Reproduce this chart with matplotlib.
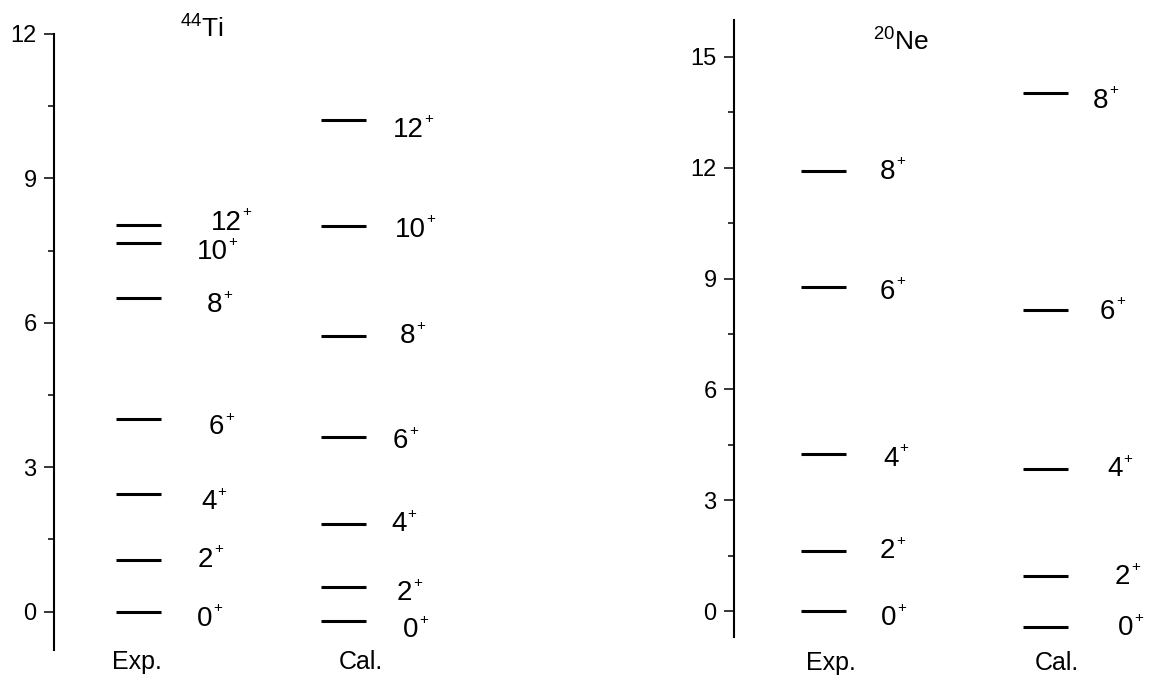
import numpy as np
import matplotlib
matplotlib.use('Agg')
import matplotlib.pyplot as plt
from matplotlib.ticker import MultipleLocator
from matplotlib.transforms import offset_copy

plt.rcParams['font.family'] = ['Liberation Sans', 'DejaVu Sans']
plt.rcParams['mathtext.fontset'] = 'custom'
plt.rcParams['mathtext.rm'] = 'Liberation Sans'
plt.rcParams['mathtext.it'] = 'Liberation Sans:italic'
plt.rcParams['mathtext.bf'] = 'Liberation Sans:bold'

# 44Ti
ti_spins = ['0', '2', '4', '6', '8', '10', '12']
ti_exp = [0.0, 1.08, 2.45, 3.99, 6.51, 7.65, 8.03]
ti_cal = [-0.19, 0.50, 1.81, 3.62, 5.72, 8.01, 10.21]

# 20Ne
ne_spins = ['0', '2', '4', '6', '8']
ne_exp = [0.0, 1.62, 4.24, 8.76, 11.92]
ne_cal = [-0.43, 0.95, 3.84, 8.16, 14.03]

fig = plt.figure(figsize=(11.53, 6.84), dpi=100)

def level_label(ax, x, y, spin):
    ax.text(x, y, spin, fontsize=20, ha='left', va='center')
    # kleines "+" oben rechts
    tr = offset_copy(ax.transData, fig=fig, x=len(spin) * 11.1 + 0.5, y=7.5, units='points')
    ax.text(x, y, '+', fontsize=11, ha='left', va='center', transform=tr)

def panel(rect, ylim, step, spins, exp, cal, title, tpos, xs, lab_exp, lab_cal, cols):
    ax = fig.add_axes(rect)
    ax.set_xlim(0, 4)
    ax.set_ylim(*ylim)
    for s in ['top', 'right', 'bottom']:
        ax.spines[s].set_visible(False)
    ax.spines['left'].set_linewidth(1.5)
    ax.set_xticks([])
    ax.yaxis.set_major_locator(MultipleLocator(step))
    ax.yaxis.set_minor_locator(MultipleLocator(step / 2))
    ax.tick_params(axis='y', which='major', length=7.5, width=1.1, labelsize=17, pad=5)
    ax.tick_params(axis='y', which='minor', length=4, width=1.1)
    hw = 0.225
    for k, (e, c) in enumerate(zip(exp, cal)):
        ax.plot([xs[0] - hw, xs[0] + hw], [e, e], color='black', lw=2.2, solid_capstyle='butt')
        ax.plot([xs[1] - hw, xs[1] + hw], [c, c], color='black', lw=2.2, solid_capstyle='butt')
        lx, dy = lab_exp[k]
        level_label(ax, lx, e + dy, spins[k])
        lx, dy = lab_cal[k]
        level_label(ax, lx, c + dy, spins[k])
    ax.text(tpos[0], tpos[1], title, fontsize=19, ha='left', va='baseline', clip_on=False)
    ax.text(cols[0], cols[2], 'Exp.', fontsize=18, ha='center', va='center', clip_on=False)
    ax.text(cols[1], cols[2], 'Cal.', fontsize=18, ha='center', va='center', clip_on=False)
    return ax

# label (x, y offset) per level
ti_lab_exp = [(1.43, -0.15), (1.44, 0.0), (1.47, -0.18), (1.55, -0.16), (1.53, -0.15), (1.43, -0.19), (1.57, 0.05)]
ti_lab_cal = [(3.49, -0.2), (3.43, -0.12), (3.37, 0.0), (3.39, -0.08), (3.46, 0.0), (3.41, -0.08), (3.39, -0.2)]
panel([54 / 1153, 34 / 684, 400 / 1153, 616 / 684], (-0.8, 12), 3,
      ti_spins, ti_exp, ti_cal, r'$^{44}$Ti', (1.26, 11.92), (0.84, 2.89),
      ti_lab_exp, ti_lab_cal, (0.83, 3.07, -1.05))

ne_lab_exp = [(1.47, -0.19), (1.46, 0.0), (1.49, -0.11), (1.46, -0.11), (1.46, -0.03)]
ne_lab_cal = [(3.84, -0.03), (3.81, -0.03), (3.73, 0.0), (3.66, -0.05), (3.59, -0.22)]
panel([734 / 1153, 47 / 684, 400 / 1153, 617 / 684], (-0.7, 16), 3,
      ne_spins, ne_exp, ne_cal, r'$^{20}$Ne', (1.39, 15.16), (0.89, 3.115),
      ne_lab_exp, ne_lab_cal, (0.97, 3.23, -1.4))

fig.savefig('out.png', dpi=100)
